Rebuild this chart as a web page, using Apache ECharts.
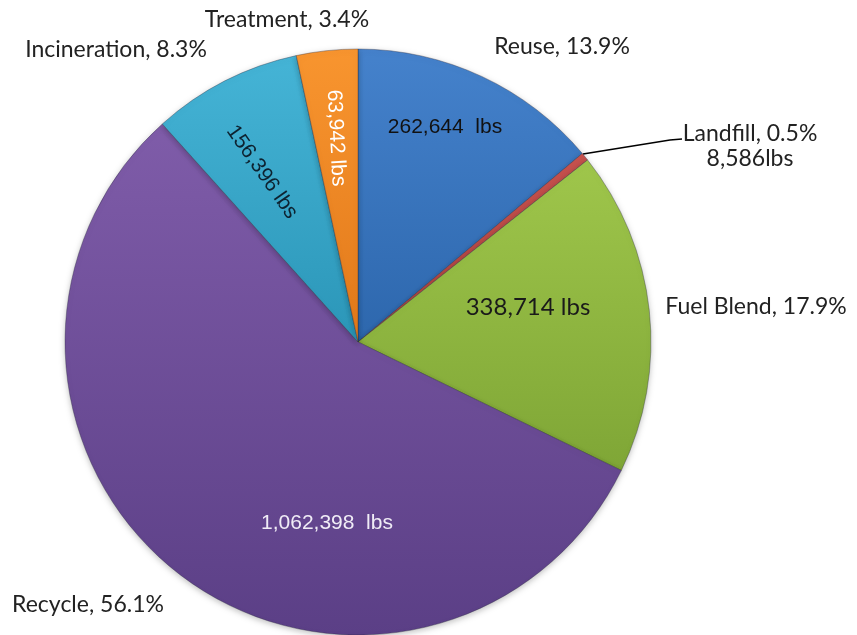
<!DOCTYPE html>
<html>
<head>
<meta charset="utf-8">
<script src="https://cdn.jsdelivr.net/npm/echarts@6/dist/echarts.min.js"></script>
<style>html,body{margin:0;padding:0;background:#fff}#c{width:857px;height:635px}</style>
</head>
<body>
<div id="c"></div>
<script>
const categories = ['Reuse', 'Landfill', 'Fuel Blend', 'Recycle', 'Incineration', 'Treatment'];
const pounds = [262644, 8586, 338714, 1062398, 156396, 63942];
const percents = ['13.9%', '0.5%', '17.9%', '56.1%', '8.3%', '3.4%'];
const valueLabels = ['262,644  lbs', '8,586lbs', '338,714 lbs', '1,062,398  lbs', '156,396 lbs', '63,942 lbs'];

// styling (not data)
const topColors = ['#4582cc', '#c8524e', '#9fc64b', '#7f5ca9', '#45b4d6', '#f8952f'];
const botColors = ['#2d67ad', '#b04340', '#7fa636', '#5b3f86', '#2b96b8', '#e2791a'];
const innerColors = ['#111', '#111', '#1a1a1a', '#f0ecf6', '#0d2230', '#fff'];
const innerFonts = ['Liberation Sans', 'Liberation Sans', 'Lato', 'Liberation Sans', 'Liberation Sans', 'Liberation Sans'];
const innerSizes = [21, 20, 24, 21, 21, 21];
const innerPos = [[445,127], null, [528,307], [327,523], [262,172], [336,138]];
const innerRot = [0, 0, 0, 0, -55, -87];
const outerPos = [[562,47], [750,146], [756,307], [88,605], [116,50], [287,20]];

const chart = echarts.init(document.getElementById('c'));
const mainData = categories.map((n, i) => ({
  name: n, value: pounds[i],
  itemStyle: { color: { type: 'linear', x: 0, y: 0, x2: 0, y2: 1,
    colorStops: [{ offset: 0, color: topColors[i] }, { offset: 1, color: botColors[i] }] } },
  label: { show: i !== 1, color: innerColors[i], rotate: innerRot[i],
    fontFamily: innerFonts[i], fontSize: innerSizes[i] }
}));
const overlayData = categories.map((n, i) => ({ name: n, value: pounds[i] }));

chart.setOption({
  animation: false,
  series: [
    {
      type: 'pie', center: [358, 342], radius: 293, startAngle: 90,
      itemStyle: { borderColor: 'rgba(40,40,60,0.35)', borderWidth: 1,
        shadowBlur: 6, shadowColor: 'rgba(0,0,0,0.25)', shadowOffsetY: 2 },
      label: { position: 'inside', overflow: 'none',
        formatter: p => valueLabels[p.dataIndex] },
      labelLine: { show: false },
      labelLayout: p => {
        const q = innerPos[p.dataIndex];
        return q ? { x: q[0], y: q[1], align: 'center', verticalAlign: 'middle' } : {};
      },
      emphasis: { disabled: true },
      data: mainData
    },
    {
      type: 'pie', center: [358, 342], radius: 293, startAngle: 90, silent: true,
      itemStyle: { color: 'rgba(0,0,0,0)' },
      label: { position: 'outside', fontFamily: 'Lato', fontSize: 23, color: '#222', lineHeight: 25,
        align: 'center', overflow: 'none', width: 260,
        formatter: p => p.dataIndex === 1
          ? categories[1] + ', ' + percents[1] + '\n' + valueLabels[1]
          : categories[p.dataIndex] + ', ' + percents[p.dataIndex] },
      labelLine: { show: true, lineStyle: { color: '#000', width: 1.5 } },
      labelLayout: p => {
        const q = outerPos[p.dataIndex];
        const r = { x: q[0], y: q[1], align: 'center', verticalAlign: 'middle' };
        if (p.dataIndex === 1) {
          r.labelLinePoints = [[583, 154], [670, 140], [682, 139]];
        } else {
          r.labelLinePoints = [[q[0], q[1]], [q[0], q[1]], [q[0], q[1]]];
        }
        return r;
      },
      emphasis: { disabled: true },
      data: overlayData
    }
  ]
});
</script>
</body>
</html>
